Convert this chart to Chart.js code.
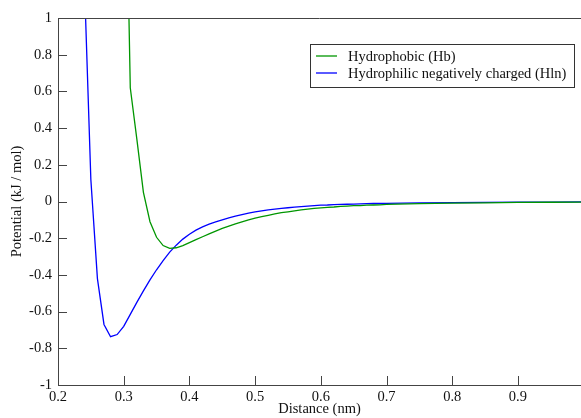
<!DOCTYPE html>
<html>
<head>
<meta charset="utf-8">
<script src="https://cdn.jsdelivr.net/npm/chart.js@4"></script>
<style>
  html, body { margin: 0; padding: 0; background: #fff; }
  #wrap { width: 581px; height: 418px; position: relative; }
</style>
</head>
<body>
<div id="wrap"><canvas id="plot"></canvas></div>
<script>
// distance (nm)
let distance = [0.24, 0.25, 0.26, 0.27, 0.28, 0.29,
  0.30, 0.31, 0.32, 0.33, 0.34, 0.35, 0.36, 0.37, 0.38, 0.39,
  0.40, 0.41, 0.42, 0.43, 0.44, 0.45, 0.46, 0.47, 0.48, 0.49,
  0.50, 0.51, 0.52, 0.53, 0.54, 0.55, 0.56, 0.57, 0.58, 0.59,
  0.60, 0.61, 0.62, 0.63, 0.64, 0.65, 0.66, 0.67, 0.68, 0.69,
  0.70, 0.75, 0.80, 0.85, 0.90, 0.95, 1.00];

// potential (kJ/mol)
let hydrophobic = [null, null, null, null, null, null,
  2.52, 0.62, 0.34, 0.05, -0.11, -0.195, -0.24, -0.255, -0.252, -0.240,
  -0.224, -0.208, -0.192, -0.176, -0.161, -0.147, -0.134, -0.122, -0.111, -0.1,
  -0.091, -0.083, -0.075, -0.068, -0.061, -0.056, -0.051, -0.046, -0.042, -0.038,
  -0.035, -0.032, -0.03, -0.027, -0.025, -0.023, -0.022, -0.02, -0.019, -0.018,
  -0.016, -0.012, -0.009, -0.007, -0.005, -0.004, -0.003];

let hydrophilic = [1.22, 0.12, -0.42, -0.67, -0.737, -0.725,
  -0.68, -0.615, -0.55, -0.487, -0.427, -0.372, -0.322, -0.276, -0.238, -0.205,
  -0.178, -0.156, -0.138, -0.123, -0.111, -0.1, -0.089, -0.08, -0.071, -0.063,
  -0.057, -0.051, -0.046, -0.042, -0.038, -0.034, -0.031, -0.028, -0.025, -0.022,
  -0.02, -0.019, -0.017, -0.016, -0.015, -0.014, -0.013, -0.012, -0.011, -0.011,
  -0.01, -0.008, -0.006, -0.005, -0.004, -0.003, -0.002];

let xticks = [0.2, 0.3, 0.4, 0.5, 0.6, 0.7, 0.8, 0.9];
let yticks = [-1, -0.8, -0.6, -0.4, -0.2, 0, 0.2, 0.4, 0.6, 0.8, 1];

const font = "Liberation Serif";
const fsize = 14.5;
const axisColor = '#444';

function points(ys) {
  return distance.map((d, i) => ({ x: d, y: ys[i] }));
}

// inward tick marks + top frame line
const frame = {
  id: 'frame',
  afterDatasetsDraw(chart) {
    const c = chart.ctx, a = chart.chartArea;
    const xs = chart.scales.x, ys = chart.scales.y;
    c.save();
    c.strokeStyle = axisColor;
    c.lineWidth = 1;
    c.beginPath();
    c.moveTo(a.left, a.top + 0.5);
    c.lineTo(a.right, a.top + 0.5);
    xticks.forEach(t => {
      let px = Math.round(xs.getPixelForValue(t)) + 0.5;
      c.moveTo(px, a.bottom);
      c.lineTo(px, a.bottom - 9);
    });
    yticks.forEach(t => {
      let py = Math.round(ys.getPixelForValue(t)) + 0.5;
      c.moveTo(a.left, py);
      c.lineTo(a.left + 9, py);
    });
    c.stroke();
    c.restore();
  }
};

// boxed legend inside the plot
const boxLegend = {
  id: 'boxLegend',
  afterDraw(chart) {
    const c = chart.ctx;
    const x0 = 310.5, y0 = 44.5, w = 264, h = 43;
    c.save();
    c.fillStyle = '#fff';
    c.fillRect(x0, y0, w, h);
    c.strokeStyle = '#333';
    c.lineWidth = 1;
    c.strokeRect(x0, y0, w, h);
    c.font = fsize + 'px "' + font + '"';
    c.textBaseline = 'middle';
    chart.data.datasets.forEach((ds, i) => {
      let y = 56 + i * 17;
      c.strokeStyle = ds.borderColor;
      c.lineWidth = 1.3;
      c.beginPath();
      c.moveTo(316, y);
      c.lineTo(337, y);
      c.stroke();
      c.fillStyle = '#111';
      c.fillText(ds.label, 348, y + 1);
    });
    c.restore();
  }
};

new Chart(document.getElementById('plot'), {
  type: 'line',
  data: {
    datasets: [
      { label: 'Hydrophobic (Hb)', data: points(hydrophobic),
        borderColor: 'rgb(0,150,0)', borderWidth: 1.3, pointRadius: 0, tension: 0 },
      { label: 'Hydrophilic negatively charged (Hln)', data: points(hydrophilic),
        borderColor: 'rgb(0,0,255)', borderWidth: 1.3, pointRadius: 0, tension: 0 }
    ]
  },
  options: {
    responsive: true,
    maintainAspectRatio: false,
    animation: false,
    layout: { padding: { top: 18, right: 0, left: 0, bottom: 0 } },
    plugins: { legend: { display: false }, tooltip: { enabled: false } },
    scales: {
      x: {
        type: 'linear',
        min: 0.2,
        max: 0.996,
        afterBuildTicks: s => { s.ticks = xticks.map(v => ({ value: v })); },
        afterFit: s => { s.height = 33; },
        border: { color: axisColor },
        grid: { display: false, drawTicks: false },
        ticks: { color: '#111', font: { family: font, size: fsize }, padding: 3, maxRotation: 0,
                 callback: v => String(v) },
        title: { display: true, text: 'Distance (nm)', color: '#111',
                 font: { family: font, size: fsize }, padding: { top: 0, bottom: 0 } }
      },
      y: {
        min: -1,
        max: 1,
        afterBuildTicks: s => { s.ticks = yticks.map(v => ({ value: v })); },
        afterFit: s => { s.width = 58; },
        border: { color: axisColor },
        grid: { display: false, drawTicks: false },
        ticks: { color: '#111', font: { family: font, size: fsize }, padding: 6,
                 callback: v => String(v) },
        title: { display: true, text: 'Potential (kJ / mol)', color: '#111',
                 font: { family: font, size: fsize }, padding: { top: 8, bottom: 0 } }
      }
    }
  },
  plugins: [frame, boxLegend]
});
</script>
</body>
</html>
